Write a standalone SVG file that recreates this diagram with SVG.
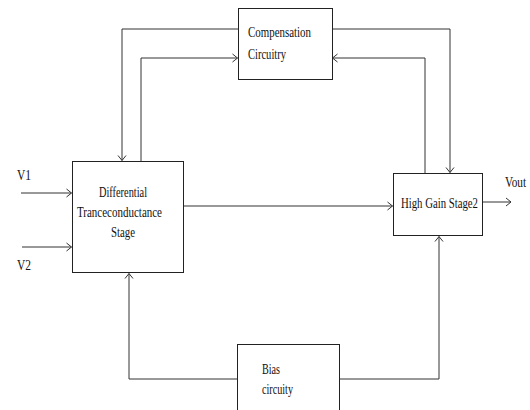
<svg xmlns="http://www.w3.org/2000/svg" width="530" height="410" viewBox="0 0 530 410">
<style>
.box{fill:#fff;stroke:#222;stroke-width:1}
.ln{fill:none;stroke:#333;stroke-width:1}
text{font-family:"Liberation Serif","Times New Roman",serif;font-size:14px;fill:#111}
</style>
<defs>
<marker id="ah" markerWidth="8" markerHeight="10" refX="6" refY="5" orient="auto" markerUnits="userSpaceOnUse">
<path d="M1,1 L6,5 L1,9" fill="none" stroke="#333" stroke-width="1"/>
</marker>
</defs>
<rect width="530" height="410" fill="#fff"/>
<g id="connectors">
<path class="ln" d="M238,29 H122 V160.5" marker-end="url(#ah)"/>
<path class="ln" d="M141,161 V58 H237.5" marker-end="url(#ah)"/>
<path class="ln" d="M332,29 H450 V172.5" marker-end="url(#ah)"/>
<path class="ln" d="M425,173 V58 H332.5" marker-end="url(#ah)"/>
<path class="ln" d="M183,206 H392.5" marker-end="url(#ah)"/>
<path class="ln" d="M21,193 H71.5" marker-end="url(#ah)"/>
<path class="ln" d="M22,247 H71.5" marker-end="url(#ah)"/>
<path class="ln" d="M482,202 H511" marker-end="url(#ah)"/>
<path class="ln" d="M237,379 H129 V273.5" marker-end="url(#ah)"/>
<path class="ln" d="M339,379 H439 V236.5" marker-end="url(#ah)"/>
</g>
<g id="compensation">
<rect class="box" x="238.5" y="8.5" width="94" height="71"/>
<text x="248" y="37" textLength="63" lengthAdjust="spacingAndGlyphs">Compensation</text>
<text x="248" y="59" textLength="38" lengthAdjust="spacingAndGlyphs">Circuitry</text>
</g>
<g id="differential">
<rect class="box" x="72.5" y="161.5" width="111" height="111"/>
<text x="99" y="197" textLength="48" lengthAdjust="spacingAndGlyphs">Differential</text>
<text x="77" y="217" textLength="85" lengthAdjust="spacingAndGlyphs">Tranceconductance</text>
<text x="111" y="237" textLength="24" lengthAdjust="spacingAndGlyphs">Stage</text>
</g>
<g id="highgain">
<rect class="box" x="393.5" y="173.5" width="89" height="62"/>
<text x="401" y="208" textLength="77" lengthAdjust="spacingAndGlyphs">High Gain Stage2</text>
</g>
<g id="bias">
<rect class="box" x="237.5" y="344.5" width="102" height="70"/>
<text x="262" y="374" textLength="18" lengthAdjust="spacingAndGlyphs">Bias</text>
<text x="262" y="394" textLength="31" lengthAdjust="spacingAndGlyphs">circuity</text>
</g>
<g id="labels">
<text x="17" y="180" textLength="14" lengthAdjust="spacingAndGlyphs">V1</text>
<text x="17" y="270" textLength="14" lengthAdjust="spacingAndGlyphs">V2</text>
<text x="505" y="187" textLength="21" lengthAdjust="spacingAndGlyphs">Vout</text>
</g>
</svg>
